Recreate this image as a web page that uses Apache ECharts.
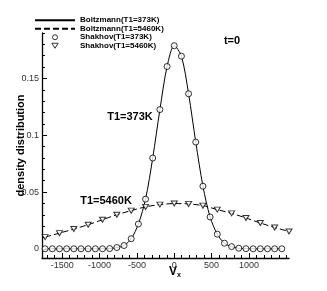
<!DOCTYPE html>
<html><head><meta charset="utf-8">
<script src="https://cdn.jsdelivr.net/npm/echarts@6/dist/echarts.min.js"></script>
<style>html,body{margin:0;padding:0;background:#fff}#c{width:327px;height:291px}</style>
</head><body><div id="c"></div>
<script>
// Data
const vxCircles = [-1728,-1632,-1536,-1440,-1344,-1248,-1152,-1056,-960,-864,-768,-672,-576,-480,-384,-288,-192,-96,0,96,192,288,384,480,576,672,768,864,960,1056,1152,1248,1344,1440];
const f373 = [0.0001,0.0001,0.0001,0.0001,0.0001,0.0001,0.0001,0.0001,0.0001,0.0003,0.0012,0.003,0.009,0.0219,0.0438,0.080,0.1226,0.1605,0.1788,0.1696,0.1365,0.094,0.0552,0.0281,0.013,0.005,0.002,0.0006,0.0002,0.0001,0.0001,0.0001,0.0001,0.0001];
const vxTriangles = [-1728,-1536,-1344,-1152,-960,-768,-576,-384,-192,0,192,384,576,768,960,1152,1344,1536];
const f5460 = [0.0104,0.0139,0.0175,0.0213,0.0257,0.0301,0.0337,0.0370,0.0390,0.0399,0.0396,0.0381,0.0346,0.0313,0.0272,0.0228,0.0189,0.0153];
const xMajorTicks = [-1500,-1000,-500,0,500,1000];
const xMinorTicks = [-1700,-1600,-1500,-1400,-1300,-1200,-1100,-1000,-900,-800,-700,-600,-500,-400,-300,-200,-100,0,100,200,300,400,500,600,700,800,900,1000,1100,1200,1300,1400,1500];
const yMajorTicks = [0,0.05,0.1,0.15];
const yMinorTicks = [0,0.01,0.02,0.03,0.04,0.05,0.06,0.07,0.08,0.09,0.1,0.11,0.12,0.13,0.14,0.15,0.16,0.17,0.18,0.19];
const seriesNames = ['Boltzmann(T1=373K)','Boltzmann(T1=5460K)','Shakhov(T1=373K)','Shakhov(T1=5460K)'];

const pair = (xs, ys) => xs.map((x, i) => [x, ys[i]]);
const FONT = '"Liberation Sans", Arial, sans-serif';
const XMIN = -1770, XMAX = 1536, YMIN = -0.008, YMAX = 0.19;
const TRI = 'path://M0,0 L10,0 L5,8 Z';
const hollow = {color: '#fff', borderColor: '#000', borderWidth: 1};

const chart = echarts.init(document.getElementById('c'), null, {renderer: 'canvas'});
chart.setOption({
  animation: false,
  backgroundColor: '#fff',
  grid: {left: 42, right: 38, top: 33, bottom: 33, containLabel: false, outerBoundsMode: 'none'},
  legend: {
    orient: 'vertical', left: 34, top: 16, padding: 0, itemWidth: 40, itemHeight: 5, itemGap: 0,
    data: [
      {name: seriesNames[0], itemStyle: {opacity: 0}},
      {name: seriesNames[1], itemStyle: {opacity: 0}},
      {name: seriesNames[2], itemStyle: hollow},
      {name: seriesNames[3], itemStyle: hollow}
    ],
    textStyle: {fontFamily: FONT, fontWeight: 'bold', fontSize: 8, lineHeight: 8.5, color: '#000'},
    selectedMode: false
  },
  xAxis: [
    {type: 'value', min: XMIN, max: XMAX, splitLine: {show: false},
      axisLine: {show: true, onZero: false, lineStyle: {color: '#000', width: 1.3}},
      axisTick: {inside: true, length: 5, customValues: xMajorTicks, lineStyle: {color: '#000'}},
      axisLabel: {customValues: xMajorTicks, formatter: v => String(v), fontFamily: FONT, fontSize: 9, color: '#333', margin: 3}},
    {type: 'value', min: XMIN, max: XMAX, position: 'bottom',
      axisLine: {show: false, onZero: false}, splitLine: {show: false}, axisLabel: {show: false},
      axisTick: {inside: true, length: 3, customValues: xMinorTicks, lineStyle: {color: '#000'}}}
  ],
  yAxis: [
    {type: 'value', min: YMIN, max: YMAX, splitLine: {show: false},
      axisLine: {show: true, onZero: false, lineStyle: {color: '#000', width: 1.3}},
      name: 'density distribution', nameLocation: 'middle', nameGap: 16, nameMoveOverlap: false,
      nameTextStyle: {fontFamily: FONT, fontWeight: 'bold', fontSize: 11, color: '#000'},
      axisTick: {inside: true, length: 5, customValues: yMajorTicks, lineStyle: {color: '#000'}},
      axisLabel: {customValues: yMajorTicks, formatter: v => String(v), fontFamily: FONT, fontSize: 9, color: '#333', margin: 3}},
    {type: 'value', min: YMIN, max: YMAX, position: 'left',
      axisLine: {show: false, onZero: false}, splitLine: {show: false}, axisLabel: {show: false},
      axisTick: {inside: true, length: 3, customValues: yMinorTicks, lineStyle: {color: '#000'}}}
  ],
  graphic: [
    {type: 'text', left: 169, top: 266, style: {rich: {v: {fontFamily: FONT, fontWeight: 'bold', fontSize: 12, fill: '#000'}, s: {fontFamily: FONT, fontWeight: 'bold', fontSize: 7, fill: '#000', padding: [6, 0, 0, 0]}}, text: '{v|V}{s|x}'}},
    {type: 'text', x: 130, y: 117, style: {text: 'T1=373K', fontFamily: FONT, fontWeight: 'bold', fontSize: 11, fill: '#000', align: 'center', verticalAlign: 'middle'}},
    {type: 'text', x: 106, y: 201, style: {text: 'T1=5460K', fontFamily: FONT, fontWeight: 'bold', fontSize: 11, fill: '#000', align: 'center', verticalAlign: 'middle'}},
    {type: 'text', x: 232, y: 41, style: {text: 't=0', fontFamily: FONT, fontWeight: 'bold', fontSize: 11, fill: '#000', align: 'center', verticalAlign: 'middle'}}
  ],
  series: [
    {name: seriesNames[0], type: 'line', data: pair(vxCircles, f373), symbol: 'none', smooth: 0.3,
      lineStyle: {color: '#000', width: 1}, itemStyle: {color: '#000'}, z: 2},
    {name: seriesNames[1], type: 'line', data: pair(vxTriangles, f5460), symbol: 'none', smooth: 0.3,
      lineStyle: {color: '#000', width: 1, type: [6, 3]}, itemStyle: {color: '#000'}, z: 2},
    {name: seriesNames[2], type: 'scatter', data: pair(vxCircles, f373), symbol: 'circle', symbolSize: 6,
      itemStyle: hollow, z: 3},
    {name: seriesNames[3], type: 'scatter', data: pair(vxTriangles, f5460), symbol: TRI, symbolSize: [6, 5],
      itemStyle: hollow, z: 3}
  ]
});
</script></body></html>
